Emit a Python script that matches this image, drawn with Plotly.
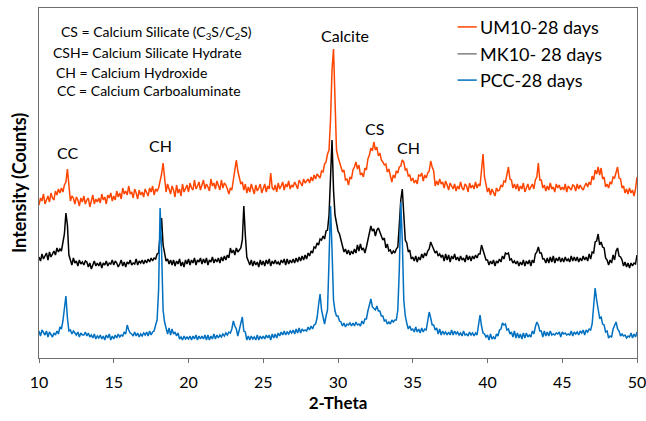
import numpy as np
import plotly.graph_objects as go

# 2-theta grid, 10.0 to 50.0 in 0.1 degree steps
two_theta = np.round(np.arange(100, 501) * 0.1, 1)

# Intensity (counts, curves stacked with vertical offsets); one row per degree
um10_28d = [
    1530, 1600, 1570, 1640, 1540, 1590, 1620, 1560, 1650, 1600,
    1580, 1670, 1630, 1690, 1650, 1700, 1660, 1730, 1760, 1890,
    1680, 1570, 1620, 1600, 1540, 1610, 1580, 1520, 1600, 1560,
    1620, 1540, 1580, 1600, 1510, 1570, 1630, 1540, 1590, 1560,
    1600, 1550, 1640, 1580, 1610, 1540, 1630, 1600, 1650, 1570,
    1620, 1580, 1670, 1610, 1650, 1590, 1700, 1640, 1670, 1630,
    1720, 1640, 1660, 1600, 1690, 1650, 1590, 1680, 1630, 1660,
    1610, 1690, 1650, 1620, 1700, 1660, 1720, 1630, 1690, 1670,
    1700, 1760, 1840, 1950, 1790, 1660, 1740, 1690, 1640, 1720,
    1680, 1610, 1730, 1650, 1690, 1620, 1740, 1660, 1700, 1730,
    1660, 1750, 1700, 1680, 1780, 1690, 1720, 1760, 1680, 1740,
    1780, 1690, 1740, 1710, 1670, 1790, 1720, 1750, 1690, 1770,
    1720, 1680, 1780, 1700, 1750, 1730, 1690, 1640, 1700, 1680,
    1780, 1880, 1980, 1870, 1800, 1740, 1760, 1680, 1740, 1650,
    1710, 1660, 1740, 1690, 1640, 1730, 1670, 1700, 1740, 1650,
    1700, 1740, 1660, 1720, 1690, 1850, 1700, 1680, 1730, 1660,
    1750, 1690, 1720, 1760, 1680, 1740, 1710, 1770, 1690, 1730,
    1710, 1760, 1730, 1690, 1780, 1740, 1720, 1790, 1750, 1770,
    1790, 1750, 1810, 1770, 1830, 1790, 1840, 1820, 1800, 1870,
    1860, 1940, 1960, 2040, 2080, 2380, 2880, 3090, 2480, 2080,
    2010, 1950, 1910, 1860, 1880, 1780, 1790, 1730, 1810, 1790,
    1880, 1910, 1960, 1890, 1930, 1830, 1850, 1810, 1900, 1880,
    1990, 2030, 2100, 2070, 2160, 2080, 2110, 2020, 2050, 1980,
    1960, 1930, 1940, 1860, 1890, 1810, 1760, 1830, 1800, 1870,
    1850, 1910, 1920, 1980, 1960, 1880, 1890, 1820, 1830, 1770,
    1800, 1750, 1780, 1740, 1830, 1820, 1850, 1770, 1830, 1800,
    1850, 1870, 1970, 1910, 1870, 1720, 1770, 1730, 1790, 1740,
    1760, 1700, 1770, 1730, 1680, 1750, 1720, 1690, 1740, 1670,
    1720, 1690, 1760, 1700, 1680, 1740, 1720, 1660, 1750, 1700,
    1730, 1690, 1760, 1700, 1740, 1720, 1880, 2040, 1810, 1740,
    1660, 1700, 1630, 1690, 1650, 1620, 1700, 1670, 1680, 1730,
    1710, 1770, 1760, 1850, 1910, 1790, 1780, 1700, 1740, 1690,
    1740, 1670, 1720, 1690, 1750, 1660, 1710, 1740, 1680, 1720,
    1740, 1690, 1780, 1810, 1950, 1780, 1780, 1700, 1730, 1670,
    1720, 1680, 1750, 1690, 1710, 1660, 1740, 1700, 1730, 1680,
    1710, 1680, 1740, 1660, 1720, 1700, 1680, 1730, 1720, 1670,
    1740, 1690, 1730, 1700, 1680, 1720, 1750, 1710, 1760, 1730,
    1820, 1780, 1880, 1840, 1910, 1830, 1900, 1790, 1810, 1710,
    1740, 1700, 1760, 1740, 1810, 1800, 1870, 1910, 1800, 1790,
    1700, 1720, 1650, 1690, 1640, 1700, 1650, 1680, 1620, 1690,
    1810,
]

mk10_28d = [
    1010, 970, 1040, 990, 1020, 1050, 980, 1060, 1010, 1040,
    1070, 1030, 1100, 1060, 1090, 1070, 1140, 1240, 1450, 1330,
    1030, 990, 930, 1000, 950, 970, 920, 980, 940, 960,
    930, 970, 960, 910, 950, 890, 940, 970, 920, 950,
    920, 960, 900, 950, 930, 970, 920, 950, 940, 980,
    930, 970, 950, 910, 940, 980, 920, 960, 910, 960,
    940, 980, 930, 950, 940, 990, 930, 970, 950, 980,
    940, 980, 950, 990, 960, 1000, 970, 1000, 990, 1040,
    1050, 1280, 1400, 1130, 1030, 970, 990, 940, 980, 930,
    980, 920, 970, 940, 990, 920, 960, 910, 980, 940,
    990, 930, 980, 950, 1000, 930, 980, 960, 1000, 940,
    990, 950, 1000, 930, 980, 960, 1010, 950, 990, 960,
    1000, 950, 1010, 970, 1020, 980, 1030, 1000, 1100, 1050,
    1080, 1030, 1100, 1060, 1080, 1100, 1180, 1520, 1230, 1010,
    970, 930, 980, 920, 970, 930, 960, 910, 980, 930,
    970, 920, 980, 940, 990, 920, 970, 940, 980, 940,
    960, 930, 980, 950, 990, 930, 990, 940, 980, 950,
    990, 950, 1000, 960, 1010, 970, 1020, 980, 1030, 990,
    1050, 1020, 1070, 1050, 1110, 1100, 1150, 1130, 1190, 1180,
    1220, 1190, 1270, 1280, 1430, 1780, 2180, 1680, 1430, 1350,
    1270, 1240, 1170, 1120, 1060, 1090, 1040, 1080, 1030, 1070,
    1040, 1090, 1050, 1130, 1070, 1140, 1080, 1100, 1050, 1110,
    1170, 1240, 1320, 1270, 1290, 1220, 1280, 1300, 1260, 1240,
    1180, 1200, 1100, 1140, 1070, 1080, 1040, 1070, 1050, 1090,
    1110, 1330, 1580, 1690, 1430, 1180, 1150, 1060, 1080, 990,
    1010, 970, 1020, 960, 1010, 980, 1040, 1000, 1050, 1020,
    1070, 1090, 1160, 1120, 1100, 1050, 1070, 1020, 1040, 1010,
    1030, 970, 1040, 980, 1030, 960, 1020, 990, 1040, 980,
    1010, 970, 1020, 980, 1000, 960, 1030, 980, 1020, 970,
    1020, 990, 1030, 1000, 1040, 1040, 1130, 1070, 1040, 980,
    980, 930, 970, 940, 980, 920, 970, 950, 990, 960,
    1020, 990, 1050, 1040, 1050, 980, 990, 950, 970, 940,
    970, 920, 960, 930, 980, 920, 970, 940, 980, 920,
    980, 950, 1040, 1060, 1110, 1050, 1050, 990, 990, 950,
    1000, 950, 1010, 960, 1020, 950, 1000, 970, 1010, 960,
    1000, 960, 1010, 970, 990, 960, 1020, 970, 1010, 970,
    1010, 960, 1000, 970, 1020, 980, 1010, 970, 1040, 990,
    1060, 1050, 1160, 1170, 1240, 1130, 1160, 1110, 1100, 1000,
    980, 930, 980, 950, 1030, 980, 1070, 1100, 1020, 1010,
    980, 920, 960, 910, 950, 900, 950, 920, 950, 940,
    1030,
]

pcc_28d = [
    270, 220, 280, 250, 230, 270, 210, 260, 240, 210,
    250, 230, 270, 240, 310, 290, 370, 480, 620, 400,
    270, 280, 240, 270, 250, 230, 260, 210, 250, 230,
    230, 260, 220, 250, 210, 230, 200, 240, 190, 220,
    200, 230, 190, 220, 180, 230, 200, 240, 180, 220,
    190, 230, 200, 240, 210, 230, 220, 260, 240, 330,
    280, 250, 240, 220, 260, 220, 250, 210, 240, 220,
    250, 230, 260, 220, 270, 230, 260, 270, 330, 380,
    680, 1500, 1080, 480, 360, 310, 240, 300, 230, 290,
    240, 260, 220, 250, 190, 210, 180, 220, 190, 210,
    190, 220, 180, 220, 190, 230, 180, 220, 190, 220,
    190, 230, 180, 230, 180, 220, 190, 240, 190, 230,
    200, 230, 210, 240, 220, 250, 230, 260, 250, 290,
    370, 320, 290, 220, 280, 320, 410, 270, 260, 180,
    220, 180, 220, 190, 210, 180, 230, 180, 220, 190,
    220, 190, 230, 200, 230, 180, 240, 200, 240, 200,
    250, 220, 260, 230, 270, 230, 260, 240, 270, 250,
    280, 240, 290, 250, 300, 250, 290, 270, 280, 270,
    310, 280, 320, 290, 330, 340, 400, 530, 640, 480,
    400, 340, 420, 480, 980, 1520, 1080, 580, 470, 420,
    420, 370, 360, 320, 350, 310, 340, 330, 350, 320,
    350, 320, 360, 330, 340, 320, 370, 340, 390, 390,
    470, 530, 590, 510, 490, 480, 520, 470, 470, 420,
    420, 370, 380, 340, 360, 340, 380, 360, 380, 380,
    480, 880, 1560, 1180, 580, 420, 350, 290, 320, 280,
    290, 260, 310, 260, 290, 250, 300, 260, 290, 280,
    370, 460, 400, 330, 330, 280, 300, 240, 290, 230,
    270, 240, 260, 230, 260, 230, 280, 230, 270, 240,
    260, 230, 250, 220, 270, 230, 240, 220, 260, 230,
    250, 220, 250, 230, 330, 430, 320, 250, 240, 210,
    230, 180, 240, 190, 210, 190, 240, 220, 280, 290,
    350, 330, 340, 280, 290, 240, 260, 210, 270, 200,
    250, 200, 240, 190, 250, 200, 250, 210, 230, 210,
    270, 240, 310, 360, 330, 270, 270, 210, 270, 220,
    260, 220, 270, 230, 240, 230, 250, 240, 260, 210,
    260, 240, 250, 230, 240, 230, 270, 220, 260, 240,
    260, 230, 270, 250, 280, 230, 280, 260, 290, 280,
    340, 530, 700, 580, 480, 400, 410, 340, 330, 260,
    270, 200, 220, 210, 290, 320, 360, 290, 270, 220,
    240, 220, 230, 200, 220, 210, 250, 200, 240, 210,
    260,
]

series_names = ["UM10-28 days", "MK10- 28 days", "PCC-28 days"]
series_values = [um10_28d, mk10_28d, pcc_28d]
series_colors = ["#FF4500", "#000000", "#0070C0"]
for vals in series_values:
    assert len(vals) == len(two_theta), len(vals)

# Phase labels over the peaks: (text, 2-theta, intensity)
peak_labels = [
    ("CC", 11.9, 2060),
    ("CH", 18.15, 2130),
    ("Calcite", 30.45, 3230),
    ("CS", 32.45, 2300),
    ("CH", 34.7, 2110),
]

key_lines = [
    "CS = Calcium Silicate (C<sub>3</sub>S/C<sub>2</sub>S)",
    "CSH= Calcium Silicate Hydrate",
    "CH = Calcium Hydroxide",
    "CC = Calcium Carboaluminate",
]

FONT = "Lato"

fig = go.Figure()
for name, vals, col in zip(series_names, series_values, series_colors):
    fig.add_trace(go.Scatter(
        x=two_theta, y=vals, name=name, mode="lines",
        line=dict(color=col, width=1.5), showlegend=False,
    ))

annotations = []
for text, xv, yv in peak_labels:
    annotations.append(dict(
        x=xv, y=yv, xref="x", yref="y", text=text, showarrow=False,
        font=dict(family=FONT, size=16, color="#000"),
        xanchor="center", yanchor="middle",
    ))

key_x = [0.033, 0.020, 0.025, 0.027]
key_y = [0.931, 0.874, 0.817, 0.763]
for text, kx, ky in zip(key_lines, key_x, key_y):
    annotations.append(dict(
        x=kx, y=ky, xref="paper", yref="paper", text=text, showarrow=False,
        font=dict(family=FONT, size=14, color="#000"),
        xanchor="left", yanchor="middle",
    ))

# Legend drawn as short line samples with labels
shapes = []
leg_y = [0.946, 0.869, 0.794]
for name, col, ly in zip(series_names, series_colors, leg_y):
    shapes.append(dict(
        type="line", xref="paper", yref="paper",
        x0=0.700, x1=0.732, y0=ly, y1=ly,
        line=dict(color=col if col != "#000000" else "#7f7f7f", width=1.5),
    ))
    annotations.append(dict(
        x=0.734, y=ly, xref="paper", yref="paper", text=name, showarrow=False,
        font=dict(family=FONT, size=18, color="#000"),
        xanchor="left", yanchor="middle",
    ))

fig.update_layout(
    width=646, height=421,
    margin=dict(l=39, r=9, t=8, b=63),
    paper_bgcolor="white", plot_bgcolor="white",
    annotations=annotations, shapes=shapes,
    xaxis=dict(
        range=[10, 50], dtick=5, tick0=10, automargin=False,
        showgrid=False, zeroline=False,
        showline=True, linecolor="#6e6e6e", linewidth=1, mirror=True,
        ticks="outside", ticklen=4, tickcolor="#6e6e6e",
        ticklabelstandoff=6, ticklabeloverflow="allow",
        tickfont=dict(family=FONT, size=16, color="#000"),
        title=dict(text="<b>2-Theta</b>", standoff=6,
                   font=dict(family=FONT, size=17, color="#000")),
    ),
    yaxis=dict(
        range=[0, 3500], showticklabels=False, ticks="", automargin=False,
        showgrid=False, zeroline=False,
        showline=True, linecolor="#6e6e6e", linewidth=1, mirror=True,
        title=dict(text="<b>Intensity (Counts)</b>", standoff=6,
                   font=dict(family=FONT, size=18, color="#000")),
    ),
)

fig.write_html("out.html")
